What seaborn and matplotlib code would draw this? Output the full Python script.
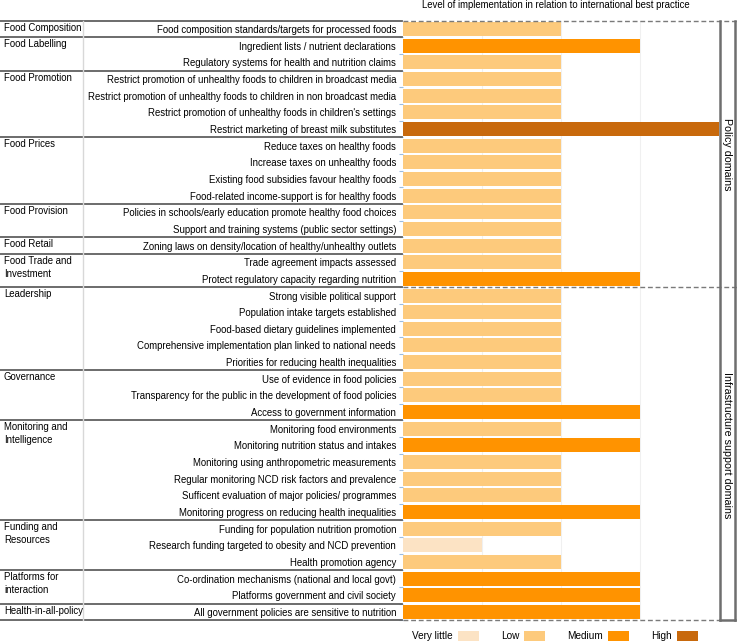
import matplotlib
matplotlib.use("Agg")
import matplotlib.pyplot as plt
import matplotlib.transforms as mtransforms
from matplotlib.patches import Patch
import numpy as np
import pandas as pd
import seaborn as sns

# data
items = [
    "Food composition standards/targets for processed foods",
    "Ingredient lists / nutrient declarations",
    "Regulatory systems for health and nutrition claims",
    "Restrict promotion of unhealthy foods to children in broadcast media",
    "Restrict promotion of unhealthy foods to children in non broadcast media",
    "Restrict promotion of unhealthy foods in children's settings",
    "Restrict marketing of breast milk substitutes",
    "Reduce taxes on healthy foods",
    "Increase taxes on unhealthy foods",
    "Existing food subsidies favour healthy foods",
    "Food-related income-support is for healthy foods",
    "Policies in schools/early education promote healthy food choices",
    "Support and training systems (public sector settings)",
    "Zoning laws on density/location of healthy/unhealthy outlets",
    "Trade agreement impacts assessed",
    "Protect regulatory capacity regarding nutrition",
    "Strong visible political support",
    "Population intake targets established",
    "Food-based dietary guidelines implemented",
    "Comprehensive implementation plan linked to national needs",
    "Priorities for reducing health inequalities",
    "Use of evidence in food policies",
    "Transparency for the public in the development of food policies",
    "Access to government information",
    "Monitoring food environments",
    "Monitoring nutrition status and intakes",
    "Monitoring using anthropometric measurements",
    "Regular monitoring NCD risk factors and prevalence",
    "Sufficent evaluation of major policies/ programmes",
    "Monitoring progress on reducing health inequalities",
    "Funding for population nutrition promotion",
    "Research funding targeted to obesity and NCD prevention",
    "Health promotion agency",
    "Co-ordination mechanisms (national and local govt)",
    "Platforms government and civil society",
    "All government policies are sensitive to nutrition",
]
levels = [
    "Low", "Medium", "Low", "Low", "Low", "Low", "High",
    "Low", "Low", "Low", "Low", "Low", "Low", "Low", "Low", "Medium",
    "Low", "Low", "Low", "Low", "Low", "Low", "Low", "Medium",
    "Low", "Medium", "Low", "Low", "Low", "Medium",
    "Low", "Very little", "Low", "Medium", "Medium", "Medium",
]
domains = [
    "Food Composition", "Food Labelling", "Food Promotion", "Food Prices",
    "Food Provision", "Food Retail", "Food Trade and\nInvestment", "Leadership",
    "Governance", "Monitoring and\nIntelligence", "Funding and\nResources",
    "Platforms for\ninteraction", "Health-in-all-policy",
]
domain_sizes = [1, 2, 4, 4, 2, 1, 2, 5, 3, 6, 3, 2, 1]
level_names = ["Very little", "Low", "Medium", "High"]
level_scores = [1, 2, 3, 4]
level_colors = ["#FCE3C4", "#FDCA7C", "#FF9300", "#C8690C"]
sections = ["Policy domains", "Infrastructure support domains"]
section_sizes = [16, 20]

score_map = dict(zip(level_names, level_scores))
df = pd.DataFrame({"item": items, "level": levels})
df["score"] = df["level"].map(score_map)

fam = ["Liberation Sans Narrow", "Liberation Sans", "DejaVu Sans"]
plt.rcParams["font.family"] = fam
fs = 6.9

W, H = 738, 643
fig = plt.figure(figsize=(W / 100, H / 100), dpi=100)
ax_l, ax_r, ax_t, ax_b = 403, 719, 20.7, 620.3
ax = fig.add_axes([ax_l / W, 1 - ax_b / H, (ax_r - ax_l) / W, (ax_b - ax_t) / H])

sns.barplot(data=df, y="item", x="score", hue="level", hue_order=level_names,
            palette=level_colors, dodge=False, orient="h", width=0.84,
            legend=False, ax=ax, saturation=1)
ax.set_xlim(0, 4)
ax.set_ylim(len(items) - 0.5, -0.5)
ax.set_xlabel("")
ax.set_ylabel("")
ax.set_xticks([])
for v in [1, 2, 3]:
    ax.axvline(v, color="#f0f0f0", lw=0.8, zorder=0)
for s in ax.spines.values():
    s.set_visible(False)
ax.tick_params(axis="y", length=0, labelsize=fs, pad=5)
ax.set_yticks(np.arange(len(items)) + 0.5, minor=True)
ax.tick_params(axis="y", which="minor", length=3, color="#9bbbe0", width=0.8)

# left panel: group labels and separators
tr = mtransforms.blended_transform_factory(fig.transFigure, ax.transData)
x_edge = (ax_l - 1) / W
bounds = np.concatenate([[0], np.cumsum(domain_sizes)])
for name, start in zip(domains, bounds[:-1]):
    ax.text(4 / W, start - 0.38, name, transform=tr, ha="left", va="top",
            fontsize=fs, linespacing=1.35, clip_on=False)
for b in bounds:
    ax.plot([0, x_edge], [b - 0.5, b - 0.5], transform=tr, color="#606060",
            lw=1.3, clip_on=False)
ax.plot([83 / W, 83 / W], [-0.5, len(items) - 0.5], transform=tr,
        color="#d8d8d8", lw=1, clip_on=False)

# dashed section lines and right-hand box
sec_bounds = np.concatenate([[0], np.cumsum(section_sizes)])
for b in sec_bounds:
    x_end = 738 / W if b < len(items) else ax_r / W
    ax.plot([ax_l / W, x_end], [b - 0.5, b - 0.5], transform=tr, color="#7a7a7a",
            lw=1, ls=(0, (3.5, 2)), clip_on=False)
box_l, box_r = 719.5 / W, 735 / W
ax.plot([box_l, box_l], [-0.5, len(items) - 0.5], transform=tr, color="#6e6e6e",
        lw=1.8, clip_on=False)
ax.plot([box_r, box_r], [-0.5, len(items) - 0.5], transform=tr, color="#6e6e6e",
        lw=1.8, clip_on=False)
ax.plot([box_l, box_r], [len(items) - 0.5] * 2, transform=tr, color="#6e6e6e",
        lw=1.8, clip_on=False)
sec_y = [7.5, 25]
for name, yc in zip(sections, sec_y):
    ax.text((box_l + box_r) / 2, yc, name, transform=tr, rotation=270,
            ha="center", va="center", fontsize=7.7, clip_on=False)

fig.text(556 / W, 1 - 5 / H, "Level of implementation in relation to international best practice",
         ha="center", va="center", fontsize=fs)

handles = [Patch(facecolor=c, edgecolor="none") for c in level_colors]
fig.legend(handles, level_names, loc="center", bbox_to_anchor=(555 / W, 1 - 636 / H),
           ncol=4, frameon=False, markerfirst=False, fontsize=7.2,
           handlelength=2.1, handleheight=1.1, handletextpad=0.5, columnspacing=2.2)

fig.savefig("out.png", dpi=100)
